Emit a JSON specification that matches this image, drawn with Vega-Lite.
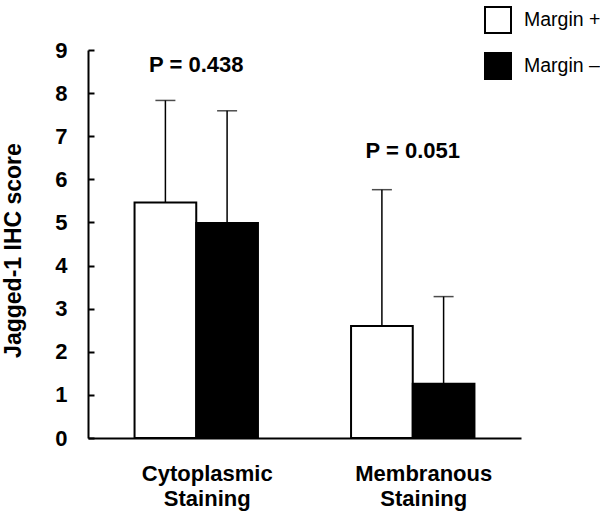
{
  "$schema": "https://vega.github.io/schema/vega-lite/v6.json",
  "width": 433,
  "height": 388,
  "autosize": {"type": "none"},
  "padding": {"left": 88, "top": 50, "right": 79, "bottom": 73},
  "background": "white",
  "config": {
    "font": "Liberation Sans",
    "view": {"stroke": null},
    "legend": {
      "orient": "none",
      "legendX": 396,
      "legendY": -44,
      "padding": 0,
      "symbolType": "square",
      "symbolSize": 676,
      "symbolStrokeColor": "black",
      "symbolStrokeWidth": 2,
      "labelFontSize": 19.5,
      "labelFont": "Liberation Sans",
      "labelColor": "black",
      "labelOffset": 12,
      "rowPadding": 12
    }
  },
  "datasets": {
    "bars": [
      {"staining": "Cytoplasmic Staining", "group": "Margin +", "value": 5.46, "upper": 7.83},
      {"staining": "Cytoplasmic Staining", "group": "Margin –", "value": 4.99, "upper": 7.59},
      {"staining": "Membranous Staining", "group": "Margin +", "value": 2.6, "upper": 5.76},
      {"staining": "Membranous Staining", "group": "Margin –", "value": 1.26, "upper": 3.28}
    ],
    "pvals": [
      {"staining": "Cytoplasmic Staining", "pos": 8.65, "label": "P = 0.438"},
      {"staining": "Membranous Staining", "pos": 6.65, "label": "P = 0.051"}
    ]
  },
  "encoding": {
    "x": {
      "field": "staining",
      "type": "nominal",
      "sort": ["Cytoplasmic Staining", "Membranous Staining"],
      "scale": {"paddingInner": 0.43, "paddingOuter": 0.215},
      "axis": {
        "title": null,
        "labelAngle": 0,
        "domainColor": "black",
        "domainWidth": 2,
        "ticks": false,
        "labelFontSize": 22,
        "labelFontWeight": "bold",
        "labelColor": "black",
        "labelPadding": 25,
        "labelLineHeight": 25,
        "labelOffset": 11,
        "labelExpr": "split(datum.label, ' ')"
      }
    }
  },
  "layer": [
    {
      "data": {"name": "bars"},
      "mark": {"type": "bar", "stroke": "black", "strokeWidth": 2},
      "encoding": {
        "xOffset": {"field": "group", "type": "nominal", "sort": ["Margin +", "Margin –"], "scale": {"paddingInner": 0, "paddingOuter": 0}},
        "y": {
          "field": "value",
          "type": "quantitative",
          "scale": {"domain": [0, 9], "nice": false},
          "axis": {
            "title": "Jagged-1 IHC score",
            "values": [0, 1, 2, 3, 4, 5, 6, 7, 8, 9],
            "grid": false,
            "domainColor": "black",
            "domainWidth": 2,
            "tickColor": "black",
            "tickWidth": 2,
            "tickSize": -6,
            "labelFontSize": 22,
            "labelFontWeight": "bold",
            "labelColor": "black",
            "labelPadding": 27,
            "titleFontSize": 23,
            "titleFontWeight": "bold",
            "titleColor": "black",
            "titleX": -75,
            "titleY": 200,
            "titleAlign": "center",
            "titleBaseline": "middle"
          }
        },
        "fill": {
          "field": "group",
          "type": "nominal",
          "scale": {"domain": ["Margin +", "Margin –"], "range": ["white", "black"]},
          "legend": {"title": null}
        }
      }
    },
    {
      "data": {"name": "bars"},
      "mark": {"type": "rule", "strokeWidth": 1.5, "color": "black"},
      "encoding": {
        "xOffset": {"field": "group", "type": "nominal", "sort": ["Margin +", "Margin –"]},
        "y": {"field": "value", "type": "quantitative"},
        "y2": {"field": "upper"}
      }
    },
    {
      "data": {"name": "bars"},
      "mark": {"type": "tick", "thickness": 1.5, "size": 20, "color": "black"},
      "encoding": {
        "xOffset": {"field": "group", "type": "nominal", "sort": ["Margin +", "Margin –"]},
        "y": {"field": "upper", "type": "quantitative"}
      }
    },
    {
      "data": {"name": "pvals"},
      "mark": {"type": "text", "fontSize": 22, "fontWeight": "bold", "color": "black", "baseline": "middle"},
      "encoding": {
        "y": {"field": "pos", "type": "quantitative"},
        "text": {"field": "label"}
      }
    }
  ]
}
